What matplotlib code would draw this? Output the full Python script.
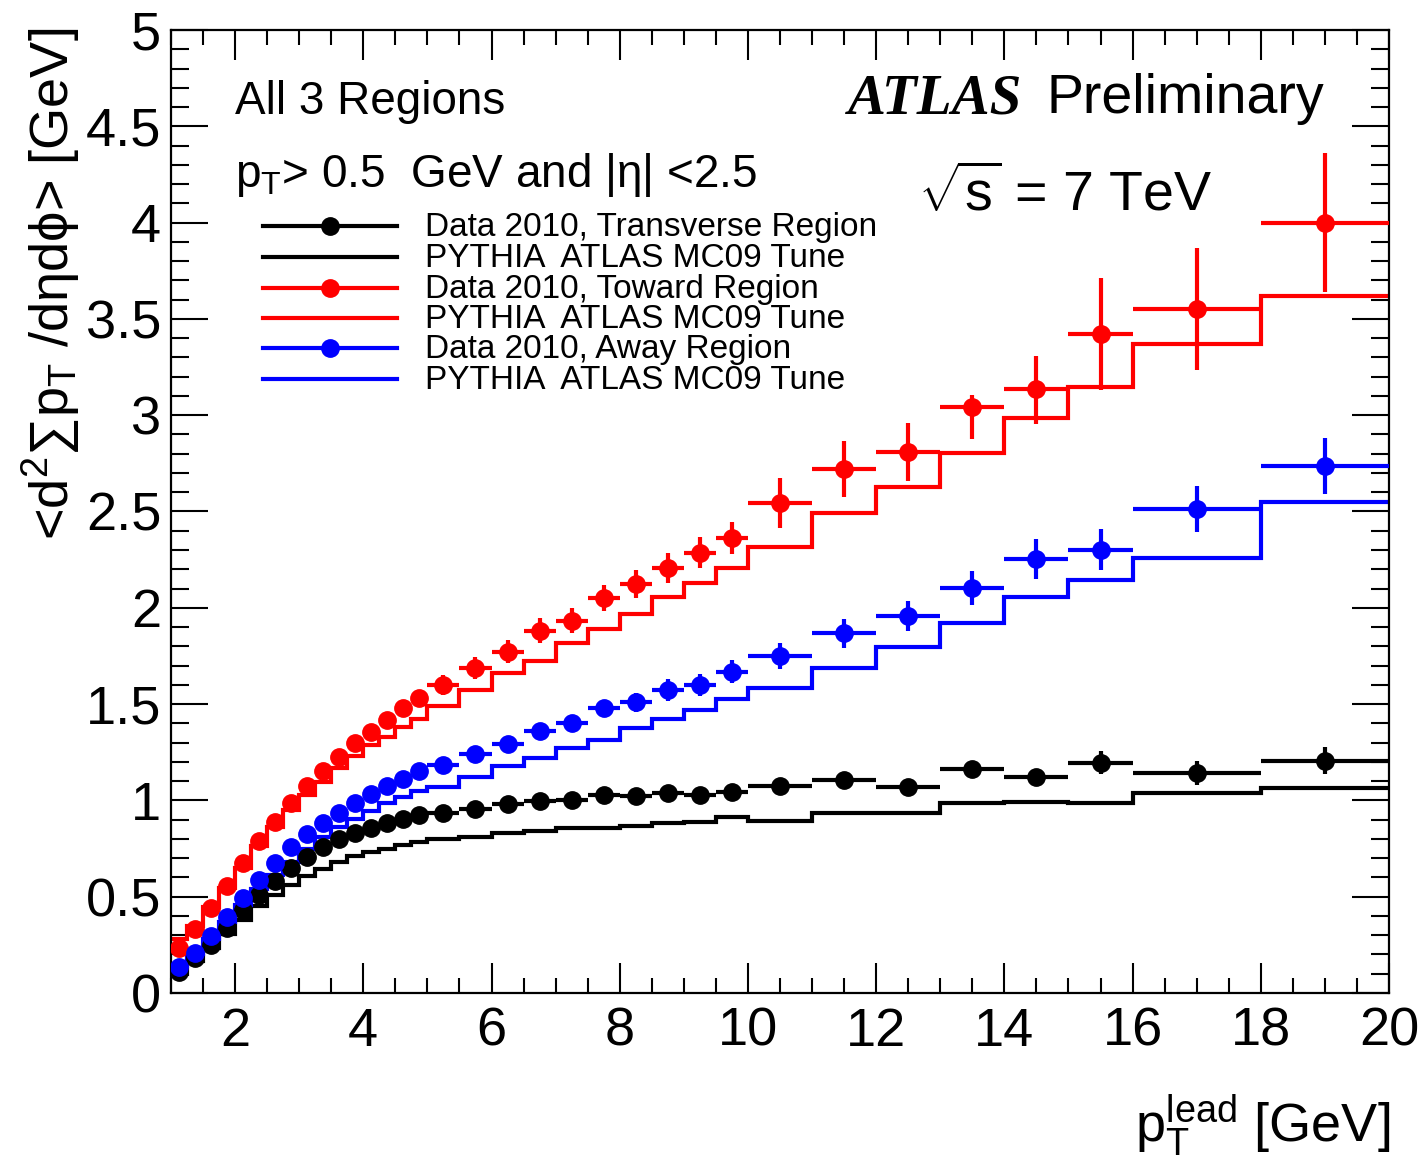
import matplotlib
matplotlib.use('Agg')
import matplotlib.pyplot as plt
import numpy as np
from matplotlib.lines import Line2D
from matplotlib.ticker import MultipleLocator, FormatStrFormatter

plt.rcParams['font.family'] = ['Liberation Sans', 'DejaVu Sans']
plt.rcParams['mathtext.fontset'] = 'custom'
plt.rcParams['mathtext.rm'] = 'Liberation Sans'
plt.rcParams['mathtext.it'] = 'Liberation Sans:italic'
plt.rcParams['mathtext.bf'] = 'Liberation Sans:bold'

# ---------------- data ----------------
bin_edges = [1.0, 1.25, 1.5, 1.75, 2.0, 2.25, 2.5, 2.75, 3.0, 3.25, 3.5, 3.75, 4.0,
             4.25, 4.5, 4.75, 5.0, 5.5, 6.0, 6.5, 7.0, 7.5, 8.0, 8.5, 9.0, 9.5, 10.0,
             11.0, 12.0, 13.0, 14.0, 15.0, 16.0, 18.0, 20.0]

trans_data = [0.111, 0.180, 0.249, 0.336, 0.431, 0.509, 0.582, 0.647, 0.708, 0.757,
              0.798, 0.829, 0.855, 0.881, 0.902, 0.924,
              0.933, 0.954, 0.980, 0.997, 1.002, 1.028, 1.024, 1.040, 1.028, 1.045,
              1.076, 1.106, 1.068, 1.161, 1.120, 1.196, 1.141, 1.206]
trans_err = [0.01, 0.01, 0.01, 0.01, 0.01, 0.01, 0.01, 0.01, 0.012, 0.012,
             0.012, 0.012, 0.015, 0.015, 0.015, 0.015,
             0.02, 0.02, 0.02, 0.022, 0.022, 0.025, 0.025, 0.028, 0.028, 0.03,
             0.03, 0.03, 0.032, 0.04, 0.04, 0.061, 0.061, 0.069]
trans_mc = [0.100, 0.165, 0.235, 0.305, 0.380, 0.450, 0.510, 0.560, 0.605, 0.645,
            0.680, 0.710, 0.730, 0.750, 0.770, 0.785,
            0.798, 0.812, 0.832, 0.843, 0.855, 0.855, 0.867, 0.884, 0.889, 0.912,
            0.895, 0.933, 0.933, 0.985, 0.993, 0.985, 1.037, 1.063]

toward_data = [0.235, 0.332, 0.443, 0.557, 0.675, 0.789, 0.889, 0.988, 1.075, 1.153,
               1.227, 1.300, 1.357, 1.417, 1.480, 1.532,
               1.599, 1.686, 1.772, 1.881, 1.933, 2.049, 2.122, 2.205, 2.286, 2.364,
               2.544, 2.720, 2.810, 3.044, 3.134, 3.423, 3.550, 4.000]
toward_err_lo = [0.01, 0.01, 0.012, 0.012, 0.015, 0.015, 0.018, 0.02, 0.02, 0.022,
                 0.025, 0.025, 0.028, 0.03, 0.03, 0.032,
                 0.05, 0.058, 0.06, 0.065, 0.065, 0.067, 0.073, 0.078, 0.082, 0.083,
                 0.13, 0.145, 0.15, 0.17, 0.18, 0.29, 0.315, 0.36]
toward_err_hi = [0.01, 0.01, 0.012, 0.012, 0.015, 0.015, 0.018, 0.02, 0.02, 0.022,
                 0.025, 0.025, 0.028, 0.03, 0.03, 0.032,
                 0.05, 0.058, 0.06, 0.065, 0.065, 0.067, 0.073, 0.078, 0.082, 0.083,
                 0.13, 0.145, 0.147, 0.06, 0.176, 0.29, 0.32, 0.363]
toward_mc = [0.280, 0.350, 0.448, 0.543, 0.650, 0.765, 0.864, 0.950, 1.028, 1.097,
             1.167, 1.230, 1.288, 1.331, 1.383, 1.421,
             1.490, 1.573, 1.660, 1.724, 1.816, 1.889, 1.968, 2.055, 2.127, 2.208,
             2.317, 2.494, 2.629, 2.802, 2.984, 3.148, 3.368, 3.620]

away_data = [0.137, 0.206, 0.296, 0.396, 0.495, 0.587, 0.673, 0.757, 0.824, 0.884,
             0.936, 0.988, 1.032, 1.075, 1.109, 1.153,
             1.184, 1.241, 1.293, 1.360, 1.403, 1.478, 1.509, 1.573, 1.599, 1.668,
             1.748, 1.868, 1.959, 2.103, 2.252, 2.302, 2.513, 2.738]
away_err = [0.01, 0.01, 0.01, 0.012, 0.012, 0.015, 0.015, 0.015, 0.018, 0.018,
            0.02, 0.02, 0.022, 0.022, 0.025, 0.025,
            0.03, 0.035, 0.035, 0.04, 0.04, 0.045, 0.05, 0.056, 0.058, 0.06,
            0.068, 0.075, 0.078, 0.09, 0.103, 0.108, 0.117, 0.145]
away_mc = [0.140, 0.200, 0.280, 0.370, 0.455, 0.540, 0.610, 0.680, 0.750, 0.810,
           0.860, 0.905, 0.945, 0.985, 1.020, 1.050,
           1.071, 1.120, 1.180, 1.218, 1.270, 1.314, 1.374, 1.421, 1.469, 1.526,
           1.582, 1.686, 1.798, 1.923, 2.058, 2.144, 2.257, 2.548]

legend_labels = ['Data 2010, Transverse Region', 'PYTHIA  ATLAS MC09 Tune',
                 'Data 2010, Toward Region', 'PYTHIA  ATLAS MC09 Tune',
                 'Data 2010, Away Region', 'PYTHIA  ATLAS MC09 Tune']

# ---------------- figure ----------------
fig = plt.figure(figsize=(14.27, 11.69), dpi=100)
ax = fig.add_axes([0.1198, 0.1506, 0.8536, 0.8237])

edges = np.array(bin_edges)
centers = 0.5 * (edges[:-1] + edges[1:])
halfw = 0.5 * (edges[1:] - edges[:-1])

LW = 3.0
MS = 12.5

series = [
    ('black', trans_data, (trans_err, trans_err), trans_mc),
    ('#ff0000', toward_data, (toward_err_lo, toward_err_hi), toward_mc),
    ('#0000ff', away_data, (away_err, away_err), away_mc),
]

for color, d, err, mc in series:
    ax.stairs(mc, edges, baseline=None, color=color, lw=LW, zorder=2)

for color, d, err, mc in series:
    ax.errorbar(centers, d, xerr=halfw, yerr=[err[0], err[1]], fmt='o',
                color=color, ms=MS, elinewidth=LW, capsize=0, zorder=3)

ax.set_xlim(1, 20)
ax.set_ylim(0, 5)

ax.xaxis.set_major_locator(MultipleLocator(2))
ax.xaxis.set_minor_locator(MultipleLocator(0.5))
ax.yaxis.set_major_locator(MultipleLocator(0.5))
ax.yaxis.set_minor_locator(MultipleLocator(0.1))
ax.yaxis.set_major_formatter(FormatStrFormatter('%g'))
ax.xaxis.set_major_formatter(FormatStrFormatter('%g'))

ax.tick_params(which='both', direction='in', top=True, right=True, width=1.5,
               labelsize=39)
ax.tick_params(axis='x', which='major', length=21.6, pad=10)
ax.tick_params(axis='x', which='minor', length=10.8)
ax.tick_params(axis='y', which='major', length=26.6, pad=7)
ax.tick_params(axis='y', which='minor', length=13)
for sp in ax.spines.values():
    sp.set_linewidth(1.6)

# axis titles
fig.text(0.036, 1 - 28 / 1169, r'<d$^{2}$∑p$_{\rm T}$ /dηdϕ> [GeV]',
         rotation=90, ha='center', va='top', fontsize=39)
fig.text(1390 / 1427, 1 - 1142 / 1169, r'p$_{\rm T}^{\rm lead}$ [GeV]',
         ha='right', va='baseline', fontsize=39)

# annotations
ax.text(0.0525, 0.9128, 'All 3 Regions', transform=ax.transAxes, fontsize=33,
        va='baseline', ha='left')
ax.text(0.0525, 0.837, r'p$_{\rm T}$> 0.5  GeV and |η| <2.5', transform=ax.transAxes,
        fontsize=33, va='baseline', ha='left')
ax.text(0.5558, 0.9138, 'ATLAS', transform=ax.transAxes, fontsize=41,
        fontfamily='Liberation Serif', fontweight='bold', fontstyle='italic',
        va='baseline', ha='left')
ax.text(0.7185, 0.9138, 'Preliminary', transform=ax.transAxes, fontsize=40,
        va='baseline', ha='left')
ax.text(0.6133, 0.812, r'$\sqrt{\rm s}$ = 7 TeV', transform=ax.transAxes, fontsize=40,
        va='baseline', ha='left')

# legend (ROOT style, drawn manually)
leg_y = [0.7965, 0.7640, 0.7318, 0.7013, 0.6695, 0.6376]
leg_col = ['black', 'black', '#ff0000', '#ff0000', '#0000ff', '#0000ff']
leg_mark = [True, False, True, False, True, False]
x0, x1, xm, xt = 0.0755, 0.1856, 0.1305, 0.2085
for y, c, m, lab in zip(leg_y, leg_col, leg_mark, legend_labels):
    ax.add_line(Line2D([x0, x1], [y, y], transform=ax.transAxes, color=c, lw=LW,
                       zorder=4))
    if m:
        ax.add_line(Line2D([xm], [y], transform=ax.transAxes, color=c, marker='o',
                           ms=MS, lw=0, zorder=5))
    ax.text(xt, y - 10 / 963, lab, transform=ax.transAxes, fontsize=24,
            va='baseline', ha='left')

fig.savefig('out.png', dpi=100)
